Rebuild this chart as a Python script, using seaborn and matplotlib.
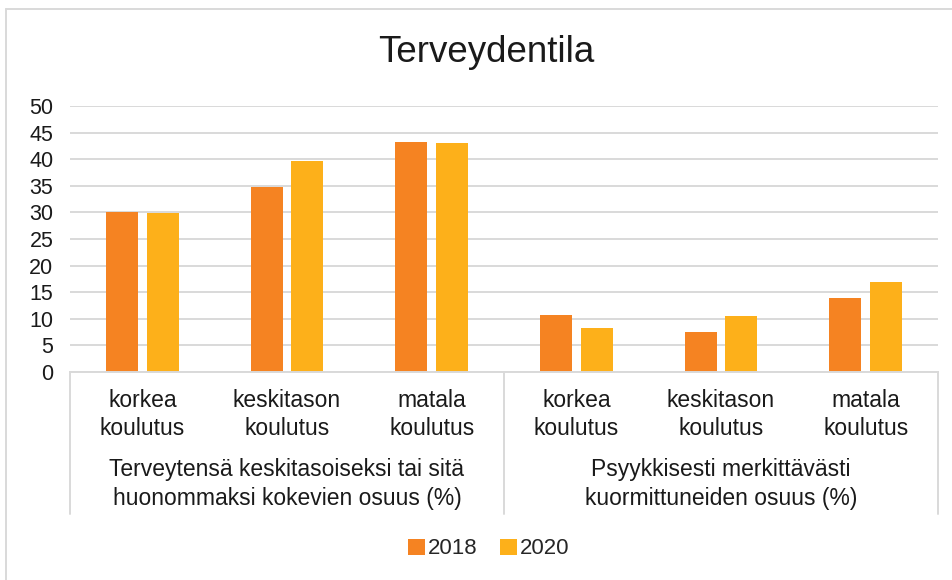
import matplotlib
matplotlib.use("Agg")
import matplotlib.pyplot as plt
import matplotlib.transforms as mtransforms
from matplotlib.lines import Line2D
from matplotlib.patches import Patch
import pandas as pd
import seaborn as sns

# Data
groups = [
    "Terveytensä keskitasoiseksi tai sitä\nhuonommaksi kokevien osuus (%)",
    "Psyykkisesti merkittävästi\nkuormittuneiden osuus (%)",
]
levels = ["korkea\nkoulutus", "keskitason\nkoulutus", "matala\nkoulutus"]
years = ["2018", "2020"]
values_2018 = [30.0, 34.7, 43.3, 10.8, 7.6, 14.0]
values_2020 = [29.9, 39.6, 43.1, 8.2, 10.5, 16.9]
colors = {"2018": "#F58322", "2020": "#FDB01A"}

keys = [f"{g}|{l}" for g in groups for l in levels]
df = pd.DataFrame({
    "key": keys * 2,
    "year": ["2018"] * 6 + ["2020"] * 6,
    "value": values_2018 + values_2020,
})

sns.set_theme(style="white")
plt.rcParams["font.family"] = ["Liberation Sans", "DejaVu Sans"]
grid_col = "#D9D9D9"
W, H = 953, 580

fig = plt.figure(figsize=(W / 100, H / 100), dpi=100)
fig.patch.set_facecolor("white")
ax = fig.add_axes([70 / W, 1 - 372 / H, (938 - 70) / W, (372 - 106) / H])

sns.barplot(data=df, x="key", y="value", hue="year", order=keys,
            hue_order=years, palette=colors, width=0.565, gap=0.22,
            linewidth=0, saturation=1, ax=ax, legend=False, zorder=3)

ax.set_xlim(-0.5, 5.5)
ax.set_ylim(0, 50)
ax.set_yticks(range(0, 51, 5))
ax.set_xlabel("")
ax.set_ylabel("")
ax.yaxis.grid(True, color=grid_col, linewidth=1.4, zorder=0)
ax.set_axisbelow(True)
for s in ["top", "left", "right"]:
    ax.spines[s].set_visible(False)
ax.spines["bottom"].set_color(grid_col)
ax.spines["bottom"].set_linewidth(1.4)
ax.spines["bottom"].set_zorder(4)

ax.set_xticks(range(6))
ax.set_xticklabels(levels * 2, fontsize=16.5, color="#1a1a1a", linespacing=1.3)
ax.tick_params(axis="x", length=0, pad=12)
ax.tick_params(axis="y", length=0, pad=12, labelsize=15.5, labelcolor="#1a1a1a")

# Category group separators below the axis
trans = mtransforms.blended_transform_factory(ax.transData, ax.transAxes)
depth = -(514 - 372) / (372 - 106)
for xs in (-0.5, 2.5, 5.5):
    ax.add_line(Line2D([xs, xs], [0, depth], transform=trans, color=grid_col,
                       linewidth=1.4, clip_on=False))

# Group labels
for i, g in enumerate(groups):
    ax.text(1 + 3 * i, -(484 - 372) / (372 - 106), g, transform=trans,
            ha="center", va="center", fontsize=16.5, color="#1a1a1a",
            linespacing=1.3)

fig.text(486 / W, 1 - 52 / H, "Terveydentila", ha="center", va="center",
         fontsize=26.5, color="#1a1a1a")

handles = [Patch(facecolor=colors[y], edgecolor="none", label=y) for y in years]
fig.legend(handles=handles, loc="center", bbox_to_anchor=(489 / W, 1 - 549 / H),
           ncol=2, frameon=False, fontsize=16, handlelength=0.75,
           handleheight=0.75, handletextpad=0.15, columnspacing=1.0)

# Outer chart frame
fig.add_artist(Line2D([6 / W, 1], [1 - 9 / H, 1 - 9 / H], transform=fig.transFigure,
                      color=grid_col, linewidth=1.4))
fig.add_artist(Line2D([6 / W, 6 / W], [0, 1 - 9 / H], transform=fig.transFigure,
                      color=grid_col, linewidth=1.4))

fig.savefig("out.png", dpi=100, facecolor="white")
